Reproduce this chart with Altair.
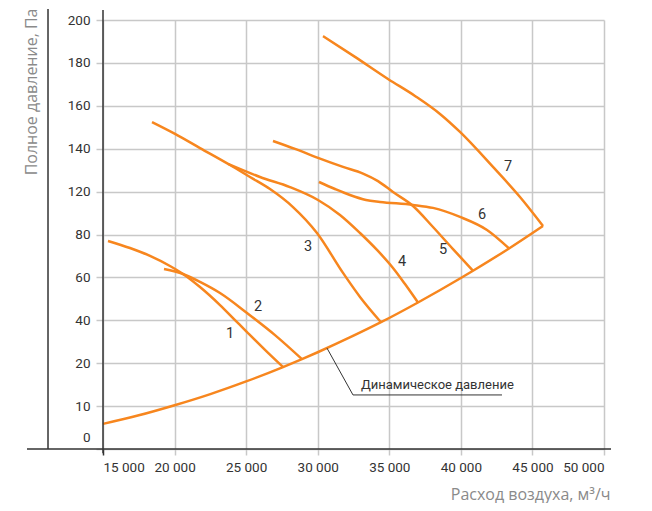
import altair as alt
import pandas as pd

ORANGE = "#F7861E"
DARK = "#333333"
GRID = "#c8c8c8"
NARROW = "Roboto, sans-serif"
WIDE = "Open Sans, Noto Sans, sans-serif"

# ---- curve data (air flow m3/h, axis position units) ----
dyn_x = [15000, 17500, 20000, 22500, 25000, 27575, 28900, 30000, 32500, 34421, 37005, 40000, 40850, 43365, 45740]
dyn_p = [11.7, 15.7, 20.4, 25.6, 31.5, 38.2, 41.9, 45.1, 52.8, 59.1, 68.3, 79.7, 83.1, 93.5, 104.0]

c1_x = [15349, 16886, 18283, 19680, 20589, 21776, 23174, 24222, 25060, 26317, 27575]
c1_p = [97.0, 93.7, 90.0, 85.3, 81.6, 75.5, 67.1, 60.1, 54.5, 46.2, 38.2]

c2_x = [19262, 20589, 21776, 23174, 25060, 27016, 28900]
c2_p = [83.9, 81.6, 77.9, 72.7, 63.4, 53.1, 41.9]

c3_x = [18423, 20030, 21776, 23872, 25270, 26667, 28274, 29950, 31767, 32954, 34421]
c3_p = [152.4, 146.9, 140.3, 132.4, 126.8, 121.2, 112.8, 100.7, 82.1, 70.9, 59.1]

c4_x = [23733, 25968, 28064, 30020, 31557, 32954, 34142, 35259, 36098, 37005]
c4_p = [132.9, 126.8, 122.1, 116.1, 109.1, 100.7, 92.8, 84.4, 76.9, 68.3]

c5_x = [26876, 28413, 30020, 31767, 33164, 34212, 35259, 36657, 38054, 39451, 40850]
c5_p = [143.6, 139.9, 135.7, 131.5, 128.4, 124.9, 119.8, 113.3, 103.5, 93.2, 83.1]

c6_x = [30090, 31208, 32255, 33373, 34351, 36657, 38054, 39940, 41826, 43365]
c6_p = [124.5, 121.2, 118.4, 116.1, 115.2, 113.8, 112.4, 108.2, 102.1, 93.5]

c7_x = [30369, 32605, 34910, 36796, 38543, 39940, 42245, 44131, 45740]
c7_p = [192.5, 182.8, 172.5, 164.6, 156.2, 147.8, 131.5, 117.5, 104.0]

# curve number labels
lab_text = ["1", "2", "3", "4", "5", "6", "7"]
lab_x = [23873, 25829, 29321, 35888, 38752, 41477, 43293]
lab_p = [53.6, 66.2, 94.2, 87.2, 92.8, 109.1, 131.5]

# annotation
ann_text = "Динамическое давление"
ann_lead_x = [30650, 32465, 42874]
ann_lead_p = [47.0, 25.2, 25.2]
ann_x = 33024
ann_p = 28.0

# axis ticks
x_ticks = [15000, 20000, 25000, 30000, 35000, 40000, 45000, 50000]
y_ticks = [0, 20, 40, 60, 80, 100, 120, 140, 160, 180, 200]
y_labels = ["0", "10", "20", "40", "60", "80", "120", "140", "160", "180", "200"]

# frame lines (outer vertical line, inner axis line, base line)
frame = pd.DataFrame({
    "x": [11158, 15000, 9691],
    "x2": [11158, 15000, 50489],
    "y": [0, -2, 0],
    "y2": [205.1, 204.7, 0],
})

rows = []
for name, xs, ps in [("dyn", dyn_x, dyn_p), ("1", c1_x, c1_p), ("2", c2_x, c2_p),
                     ("3", c3_x, c3_p), ("4", c4_x, c4_p), ("5", c5_x, c5_p),
                     ("6", c6_x, c6_p), ("7", c7_x, c7_p)]:
    for i, (xv, pv) in enumerate(zip(xs, ps)):
        rows.append({"curve": name, "x": xv, "p": pv, "o": i})
curves = pd.DataFrame(rows)

labels = pd.DataFrame({"t": lab_text, "x": lab_x, "p": lab_p})
lead = pd.DataFrame({"x": ann_lead_x, "p": ann_lead_p, "o": list(range(len(ann_lead_x)))})
ann = pd.DataFrame({"t": [ann_text], "x": [ann_x], "p": [ann_p]})

label_map = "{" + ",".join(f"'{v}':'{l}'" for v, l in zip(y_ticks, y_labels)) + "}"

xscale = alt.Scale(domain=[15000, 50000], nice=False, zero=False)
yscale = alt.Scale(domain=[0, 200], nice=False, zero=False)

xaxis = alt.Axis(
    values=x_ticks, grid=True, gridColor=GRID, gridWidth=1.5, domain=False,
    tickSize=6, tickWidth=1.5,
    tickColor={"condition": {"test": "datum.value == 15000", "value": DARK}, "value": GRID},
    labelExpr="replace(format(datum.value, ','), ',', ' ')",
    labelFont=NARROW, labelFontSize=13.5, labelColor=DARK, labelPadding=5,
    title="Расход воздуха, м³/ч", titleFont=WIDE, titleFontSize=16, titleFontWeight="normal",
    titleColor="#8a8a8a", titleAlign="right", titleAnchor="end", titleX=507, titleY=50,
    titleBaseline="alphabetic",
)
yaxis = alt.Axis(
    values=y_ticks, grid=True, gridColor=GRID, gridWidth=1.5, domain=False,
    tickSize=7, tickWidth=1.5, tickColor=GRID,
    labelExpr=label_map + "[''+datum.value]",
    labelFont=NARROW, labelFontSize=13.5, labelColor=DARK, labelPadding=6,
    labelOffset={"condition": {"test": "datum.value == 0", "value": -12}, "value": 0},
    title="Полное давление, Па", titleFont=WIDE, titleFontSize=16, titleFontWeight="normal",
    titleColor="#8a8a8a", titleAngle=270, titleAlign="right", titleBaseline="middle",
    titleX=-72, titleY=-12,
)

base_axes = alt.Chart(curves).mark_line(opacity=0).encode(
    x=alt.X("x:Q", scale=xscale, axis=xaxis),
    y=alt.Y("p:Q", scale=yscale, axis=yaxis),
    detail="curve:N",
)

frame_rules = alt.Chart(frame).mark_rule(color=DARK, strokeWidth=1.5, clip=False).encode(
    x=alt.X("x:Q", scale=xscale), x2="x2:Q",
    y=alt.Y("y:Q", scale=yscale), y2="y2:Q",
)

lines = alt.Chart(curves).mark_line(color=ORANGE, strokeWidth=2.5, interpolate="monotone").encode(
    x=alt.X("x:Q", scale=xscale),
    y=alt.Y("p:Q", scale=yscale),
    detail="curve:N",
    order="o:Q",
)

nums = alt.Chart(labels).mark_text(font=NARROW, fontSize=14.5, color=DARK).encode(
    x=alt.X("x:Q", scale=xscale), y=alt.Y("p:Q", scale=yscale), text="t:N",
)

leader = alt.Chart(lead).mark_line(color=DARK, strokeWidth=1).encode(
    x=alt.X("x:Q", scale=xscale), y=alt.Y("p:Q", scale=yscale), order="o:Q",
)

ann_text_mark = alt.Chart(ann).mark_text(font=NARROW, fontSize=13, color=DARK, align="left",
                                         baseline="alphabetic").encode(
    x=alt.X("x:Q", scale=xscale), y=alt.Y("p:Q", scale=yscale), text="t:N",
)

chart = alt.layer(base_axes, lines, leader, ann_text_mark, nums, frame_rules).properties(
    width=501, height=429,
    autosize=alt.AutoSizeParams(type="none"),
    padding={"left": 95, "top": 12, "right": 30, "bottom": 54},
).configure_view(stroke="transparent")

chart.save("out.html", embed_options={"renderer": "svg", "actions": False})
